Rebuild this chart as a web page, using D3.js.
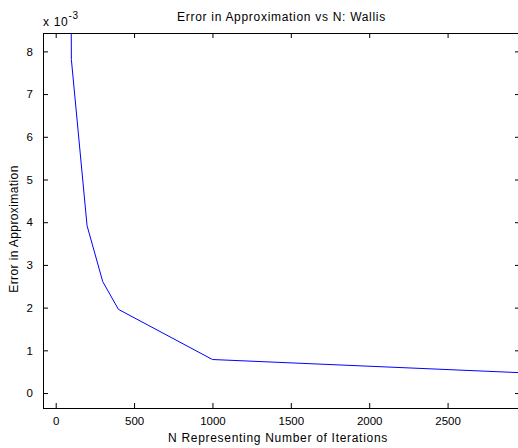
<!DOCTYPE html>
<html>
<head>
<meta charset="utf-8">
<script src="https://cdn.jsdelivr.net/npm/d3@7"></script>
<style>
  html, body { margin: 0; padding: 0; background: #fff; }
  svg { display: block; }
  text { font-family: "Liberation Sans", Arial, sans-serif; fill: #000; }
  .lbl { font-size: 12px; letter-spacing: 0.7px; }
</style>
</head>
<body>
<script>
// Wallis product: error of the pi estimate against number of iterations N
const iterations = [10, 100, 200, 300, 400, 1000, 5000];
const errorScaled = [74.8, 7.81, 3.92, 2.61, 1.96, 0.785, 0.157]; // units of 1e-3
const xTicks = [0, 500, 1000, 1500, 2000, 2500];
const yTicks = [0, 1, 2, 3, 4, 5, 6, 7, 8];

const W = 518, H = 448;
const plotL = 43, plotR = 520, plotT = 33, plotB = 408;

const svg = d3.select("body").append("svg").attr("width", W).attr("height", H);

const x = d3.scaleLinear().domain([-81, 2962]).range([plotL, plotR]);
const y = d3.scaleLinear().domain([-0.35, 8.43]).range([plotB, plotT]);

svg.append("clipPath").attr("id", "plotclip")
  .append("rect").attr("x", plotL).attr("y", plotT).attr("width", plotR - plotL).attr("height", plotB - plotT);

// data line
const line = d3.line().x((d, i) => x(iterations[i])).y(d => y(d));
svg.append("path")
  .datum(errorScaled)
  .attr("clip-path", "url(#plotclip)")
  .attr("d", line)
  .attr("fill", "none")
  .attr("stroke", "#0000ff")
  .attr("stroke-width", 1);

// axes with inward ticks on all four sides
const tick = 5;
const fmt = d3.format("d");
const bottomAxis = d3.axisBottom(x).tickValues(xTicks).tickSize(-tick).tickPadding(tick + 4).tickFormat(fmt);
const topAxis = d3.axisTop(x).tickValues(xTicks).tickSize(-tick).tickFormat("");
const leftAxis = d3.axisLeft(y).tickValues(yTicks).tickSize(-tick).tickPadding(tick + 5).tickFormat(fmt);
const rightAxis = d3.axisRight(y).tickValues(yTicks).tickSize(-tick).tickFormat("");

function style(g) {
  g.select(".domain").remove();
  g.selectAll("line").attr("stroke", "#000").attr("stroke-width", 1);
  g.selectAll("text").style("font-family", '"Liberation Sans", Arial, sans-serif').style("font-size", "11.5px").attr("fill", "#000");
}
svg.append("g").attr("transform", `translate(0,${plotB})`).call(bottomAxis).call(style);
svg.append("g").attr("transform", `translate(0,${plotT})`).call(topAxis).call(style);
svg.append("g").attr("transform", `translate(${plotL},0)`).call(leftAxis).call(style);
svg.append("g").attr("transform", `translate(${plotR},0)`).call(rightAxis).call(style);

// axes box
svg.append("rect")
  .attr("x", plotL + 0.5).attr("y", plotT + 0.5)
  .attr("width", plotR - plotL).attr("height", plotB - plotT)
  .attr("fill", "none").attr("stroke", "#000").attr("stroke-width", 1);

// exponent multiplier
const mult = svg.append("text").attr("x", plotL).attr("y", 26).attr("class", "lbl");
mult.append("tspan").text("x 10");
mult.append("tspan").attr("dy", -7).style("font-size", "10px").text("-3");

// title and axis labels
svg.append("text").attr("class", "lbl").attr("x", (plotL + plotR) / 2).attr("y", 21)
  .attr("text-anchor", "middle")
  .text("Error in Approximation vs N: Wallis");
svg.append("text").attr("class", "lbl").attr("x", 278).attr("y", 442)
  .attr("text-anchor", "middle")
  .text("N Representing Number of Iterations");
svg.append("text").attr("class", "lbl").attr("transform", "translate(18,229) rotate(-90)")
  .attr("text-anchor", "middle").style("letter-spacing", "0.4px")
  .text("Error in Approximation");
</script>
</body>
</html>
